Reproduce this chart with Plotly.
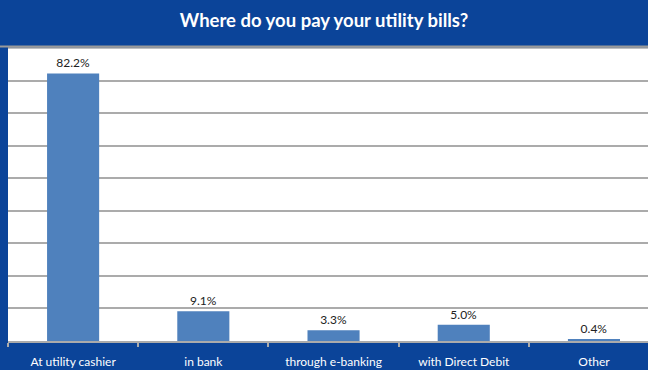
import plotly.graph_objects as go

categories = ["At utility cashier", "in bank", "through e-banking", "with Direct Debit", "Other"]
values = [82.2, 9.1, 3.3, 5.0, 0.4]
labels = ["82.2%", "9.1%", "3.3%", "5.0%", "0.4%"]

BLUE = "#0B4499"
BAR = "#4F81BD"
GRID = "#ABABAB"

fig = go.Figure(go.Bar(
    x=categories, y=values, text=labels, textposition="outside",
    textfont=dict(family="Lato", size=12, color="#222222"),
    marker=dict(color=BAR, line=dict(width=0)),
    width=0.4, cliponaxis=False,
))

fig.update_layout(
    width=648, height=370,
    margin=dict(l=8, r=0, t=48, b=29),
    paper_bgcolor=BLUE, plot_bgcolor="white",
    showlegend=False,
    title=dict(text="<b>Where do you pay your utility bills?</b>",
               x=0.5, xanchor="center", y=1 - 21 / 370, yanchor="middle",
               font=dict(family="Lato", size=18.5, color="white")),
    xaxis=dict(range=[-0.5, 4.415], showgrid=False, showline=True, linecolor=GRID, linewidth=1.5,
               ticks="outside", tickson="boundaries", ticklen=4, tickcolor=GRID, tickwidth=1.5,
               ticklabelstandoff=9,
               tickfont=dict(family="Lato", size=12, color="white")),
    yaxis=dict(range=[0, 90], dtick=10, showgrid=True, gridcolor=GRID, gridwidth=1.5,
               showticklabels=False, zeroline=False, fixedrange=True),
    bargap=0.6,
    shapes=[dict(type="line", xref="paper", yref="paper", x0=0, x1=1, y0=1, y1=1,
                 line=dict(color=GRID, width=1.5)),
            dict(type="line", xref="paper", yref="paper", x0=-0.02, x1=1, y0=1.005, y1=1.005,
                 line=dict(color="#9A9A9A", width=2))],
)

fig.write_html("out.html", config={"displayModeBar": False},
               post_script="document.body.style.margin='0';document.body.style.overflow='hidden';")
